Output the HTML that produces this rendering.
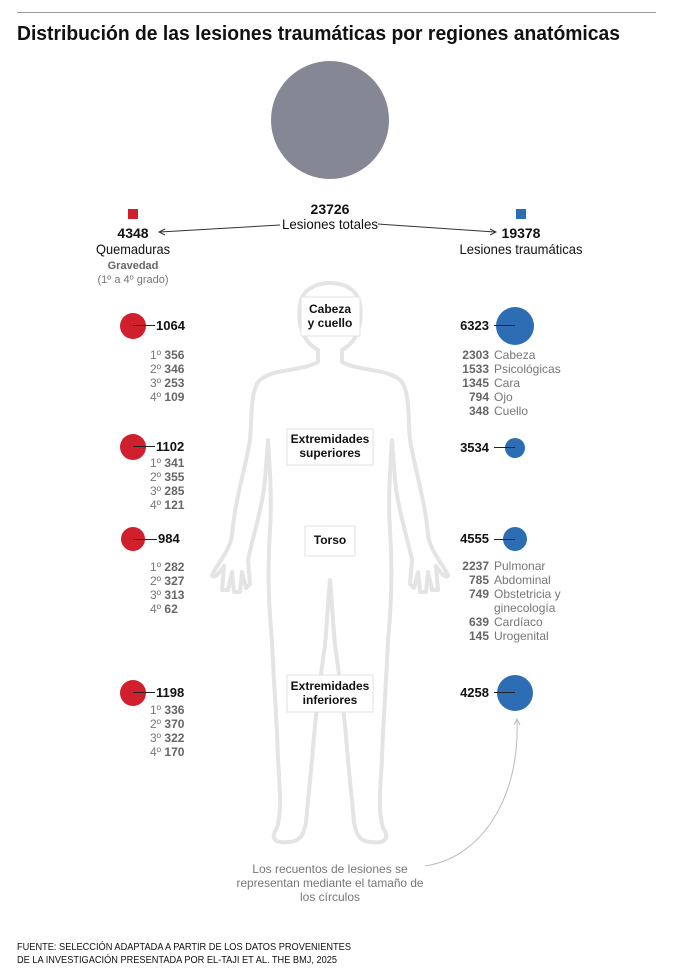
<!DOCTYPE html>
<html><head><meta charset="utf-8"><style>
html,body{margin:0;padding:0;background:#fff}
svg{display:block;font-family:"Liberation Sans Narrow","Liberation Sans",sans-serif}
.b{font-weight:bold;fill:#111}
.g{fill:#777}
.gb{fill:#666;font-weight:bold}
</style></head><body>
<svg width="675" height="976" viewBox="0 0 675 976" xmlns="http://www.w3.org/2000/svg">
<line x1="17" y1="12.5" x2="656" y2="12.5" stroke="#999" stroke-width="1"/>
<text x="17" y="40" font-size="20" class="b" textLength="603" lengthAdjust="spacingAndGlyphs">Distribución de las lesiones traumáticas por regiones anatómicas</text>

<g fill="none" stroke="#e4e4e4" stroke-width="4" stroke-linejoin="round" stroke-linecap="round">
<path d="M318 350 C300 340 298 320 300 305 C302 290 315 283 330 283 C345 283 358 290 360 305 C362 320 360 340 342 350 L342 362 C360 372 390 368 402 382 C410 395 408 420 410 440 C415 470 425 500 428 535 C430 550 440 560 448 575 C446 580 440 572 436 566 L438 590 L432 590 L428 572 L426 592 L420 592 L418 572 L414 588 L410 584 L412 560 C408 540 398 510 395 480 L392 440 C390 470 388 500 390 530 C392 560 392 600 388 640 C386 690 383 720 382 760 C380 790 378 810 383 828 C390 838 385 844 372 842 C360 842 356 835 354 822 C352 800 350 780 348 760 C345 720 340 680 335 645 C333 625 332 600 330 580 C328 600 327 625 325 645 C320 680 315 720 312 760 C310 780 308 800 306 822 C304 835 300 842 288 842 C275 844 270 838 277 828 C282 810 280 790 278 760 C277 720 274 690 272 640 C268 600 268 560 270 530 C272 500 270 470 268 440 L265 480 C262 510 252 540 248 560 L250 584 L246 588 L242 572 L240 592 L234 592 L232 572 L228 590 L222 590 L224 566 C220 572 214 580 212 575 C220 560 230 550 232 535 C235 500 245 470 250 440 C252 420 250 395 258 382 C270 368 300 372 318 362 Z"/>
</g>

<circle cx="330" cy="120" r="59" fill="#868795"/>
<text x="330" y="214" font-size="14" class="b" text-anchor="middle">23726</text>
<text x="330" y="229" font-size="14" fill="#111" text-anchor="middle" textLength="96" lengthAdjust="spacingAndGlyphs">Lesiones totales</text>

<g stroke="#333" stroke-width="1" fill="none">
<path d="M280 225 L160 232"/><path d="M165 229 L159 232 L165 235"/>
<path d="M378 224 L495 232"/><path d="M490 229 L496 232 L490 235"/>
</g>

<rect x="128" y="209" width="10" height="10" fill="#d01f2d"/>
<text x="133" y="238" font-size="14" class="b" text-anchor="middle">4348</text>
<text x="133" y="254" font-size="14" fill="#111" text-anchor="middle" textLength="74" lengthAdjust="spacingAndGlyphs">Quemaduras</text>
<text x="133" y="269" font-size="11" class="gb" fill="#888" text-anchor="middle">Gravedad</text>
<text x="133" y="283" font-size="11" class="g" text-anchor="middle">(1º a 4º grado)</text>

<rect x="516" y="209" width="10" height="10" fill="#2c6db3"/>
<text x="521" y="238" font-size="14" class="b" text-anchor="middle">19378</text>
<text x="521" y="254" font-size="14" fill="#111" text-anchor="middle" textLength="123" lengthAdjust="spacingAndGlyphs">Lesiones traumáticas</text>

<g fill="#fff" stroke="#e2e2e2" stroke-width="1">
<rect x="301" y="297" width="59" height="39"/>
<rect x="287" y="429" width="86" height="36"/>
<rect x="305" y="526" width="50" height="30"/>
<rect x="287" y="675" width="86" height="37"/>
</g>
<g font-size="12" class="b" text-anchor="middle">
<text x="330" y="313">Cabeza</text><text x="330" y="327">y cuello</text>
<text x="330" y="443">Extremidades</text><text x="330" y="457">superiores</text>
<text x="330" y="544">Torso</text>
<text x="330" y="690">Extremidades</text><text x="330" y="704">inferiores</text>
</g>

<g fill="#d01f2d">
<circle cx="133" cy="326" r="13"/><circle cx="133" cy="447" r="13"/>
<circle cx="133" cy="539" r="12"/><circle cx="133" cy="693" r="13"/>
</g>
<g stroke="#222" stroke-width="1">
<line x1="133" y1="325.5" x2="155" y2="325.5"/><line x1="133" y1="446.5" x2="155" y2="446.5"/>
<line x1="133" y1="539.5" x2="157" y2="539.5"/><line x1="133" y1="692.5" x2="155" y2="692.5"/>
</g>
<g font-size="13" class="b">
<text x="156" y="330">1064</text><text x="156" y="451">1102</text>
<text x="158" y="543">984</text><text x="156" y="697">1198</text>
</g>
<g font-size="12">
<text x="150" y="359"><tspan class="g">1º </tspan><tspan class="gb">356</tspan></text>
<text x="150" y="373"><tspan class="g">2º </tspan><tspan class="gb">346</tspan></text>
<text x="150" y="387"><tspan class="g">3º </tspan><tspan class="gb">253</tspan></text>
<text x="150" y="401"><tspan class="g">4º </tspan><tspan class="gb">109</tspan></text>
<text x="150" y="467"><tspan class="g">1º </tspan><tspan class="gb">341</tspan></text>
<text x="150" y="481"><tspan class="g">2º </tspan><tspan class="gb">355</tspan></text>
<text x="150" y="495"><tspan class="g">3º </tspan><tspan class="gb">285</tspan></text>
<text x="150" y="509"><tspan class="g">4º </tspan><tspan class="gb">121</tspan></text>
<text x="150" y="571"><tspan class="g">1º </tspan><tspan class="gb">282</tspan></text>
<text x="150" y="585"><tspan class="g">2º </tspan><tspan class="gb">327</tspan></text>
<text x="150" y="599"><tspan class="g">3º </tspan><tspan class="gb">313</tspan></text>
<text x="150" y="613"><tspan class="g">4º </tspan><tspan class="gb">62</tspan></text>
<text x="150" y="714"><tspan class="g">1º </tspan><tspan class="gb">336</tspan></text>
<text x="150" y="728"><tspan class="g">2º </tspan><tspan class="gb">370</tspan></text>
<text x="150" y="742"><tspan class="g">3º </tspan><tspan class="gb">322</tspan></text>
<text x="150" y="756"><tspan class="g">4º </tspan><tspan class="gb">170</tspan></text>
</g>

<g fill="#2c6db3">
<circle cx="515" cy="326" r="19"/><circle cx="515" cy="448" r="10"/>
<circle cx="515" cy="539" r="12"/><circle cx="515" cy="693" r="18"/>
</g>
<g stroke="#222" stroke-width="1">
<line x1="494" y1="325.5" x2="515" y2="325.5"/><line x1="494" y1="447.5" x2="515" y2="447.5"/>
<line x1="494" y1="539.5" x2="515" y2="539.5"/><line x1="494" y1="692.5" x2="515" y2="692.5"/>
</g>
<g font-size="13" class="b" text-anchor="end">
<text x="489" y="330">6323</text><text x="489" y="452">3534</text>
<text x="489" y="543">4555</text><text x="489" y="697">4258</text>
</g>
<g font-size="12">
<g class="gb" text-anchor="end">
<text x="489" y="359">2303</text><text x="489" y="373">1533</text><text x="489" y="387">1345</text><text x="489" y="401">794</text><text x="489" y="415">348</text>
<text x="489" y="570">2237</text><text x="489" y="584">785</text><text x="489" y="598">749</text><text x="489" y="626">639</text><text x="489" y="640">145</text>
</g>
<g class="g">
<text x="494" y="359">Cabeza</text><text x="494" y="373">Psicológicas</text><text x="494" y="387">Cara</text><text x="494" y="401">Ojo</text><text x="494" y="415">Cuello</text>
<text x="494" y="570">Pulmonar</text><text x="494" y="584">Abdominal</text><text x="494" y="598">Obstetricia y</text><text x="494" y="612">ginecología</text><text x="494" y="626">Cardíaco</text><text x="494" y="640">Urogenital</text>
</g>
</g>

<path d="M425 866 C480 858 520 800 517 720" fill="none" stroke="#bbb" stroke-width="1"/>
<path d="M514 725 L517 719 L520 725" fill="none" stroke="#bbb" stroke-width="1"/>
<g font-size="12" class="g" text-anchor="middle">
<text x="330" y="873">Los recuentos de lesiones se</text>
<text x="330" y="887" textLength="187" lengthAdjust="spacingAndGlyphs">representan mediante el tamaño de</text>
<text x="330" y="901">los círculos</text>
</g>

<g font-size="10" fill="#111">
<text x="17" y="950" textLength="334" lengthAdjust="spacingAndGlyphs">FUENTE: SELECCIÓN ADAPTADA A PARTIR DE LOS DATOS PROVENIENTES</text>
<text x="17" y="963" textLength="320" lengthAdjust="spacingAndGlyphs">DE LA INVESTIGACIÓN PRESENTADA POR EL-TAJI ET AL. THE BMJ, 2025</text>
</g>
</svg>
</body></html>
